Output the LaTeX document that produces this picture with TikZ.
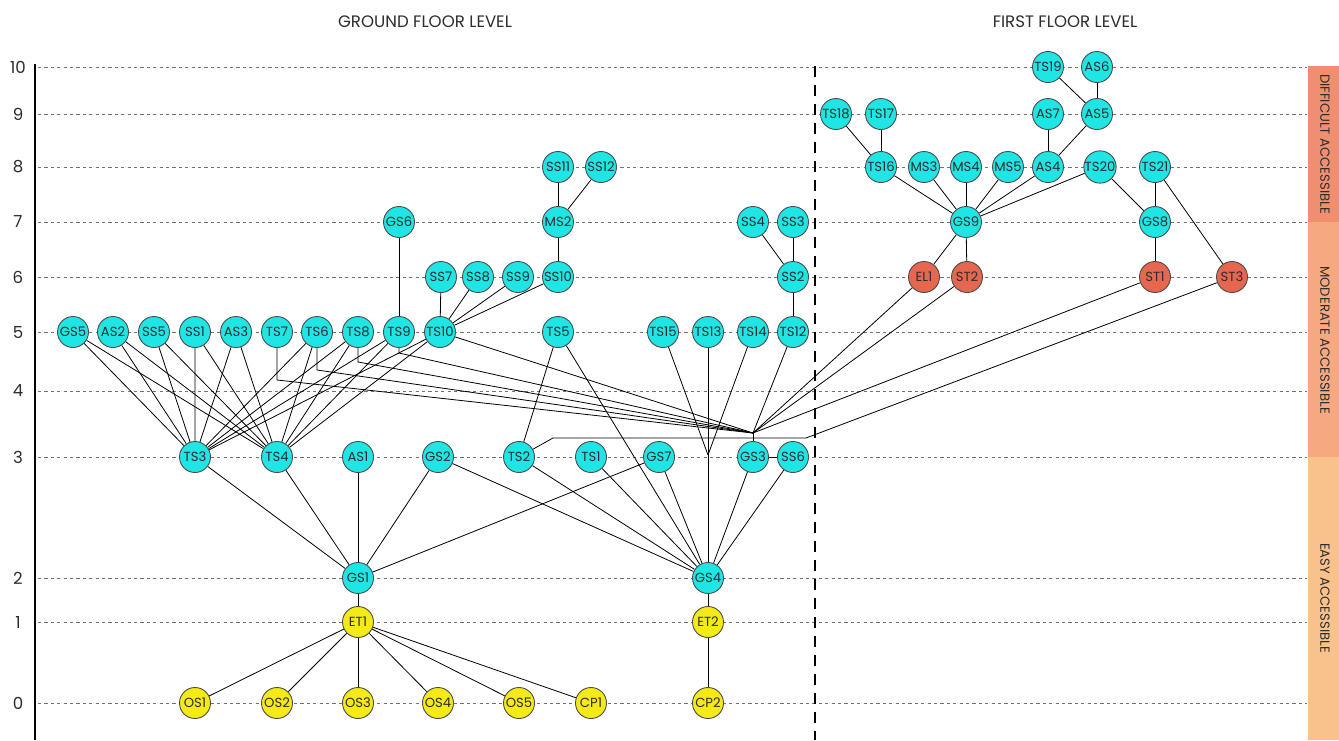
\documentclass[tikz,border=0pt]{standalone}
\usepackage{fontspec}
\setmainfont{Poppins}
\usetikzlibrary{backgrounds}
\definecolor{nodecyan}{RGB}{32,229,229}
\definecolor{vertred}{RGB}{229,103,79}
\definecolor{entryyel}{RGB}{244,234,22}
\definecolor{banddiff}{RGB}{240,142,112}
\definecolor{bandmod}{RGB}{246,168,128}
\definecolor{bandeasy}{RGB}{249,193,140}
\definecolor{labelgray}{RGB}{45,45,45}

\begin{document}
\begin{tikzpicture}[x=0.5pt, y=-0.5pt, line width=1.15pt,
    main/.style = {draw=black!70, line width=0.45pt, circle, fill=nodecyan, minimum size=15.5pt, inner sep=0pt, text=labelgray, font=\fontsize{6.6}{6.6}\selectfont},
    vert/.style = {main, fill=vertred},
    entr/.style = {main, fill=entryyel},
    lvline/.style = {black!55, line width=0.5pt, dash pattern=on 1.6pt off 1.6pt},
    lvl/.style = {text=labelgray, font=\fontsize{8.3}{9}\selectfont},
    band/.style = {text=labelgray, rotate=-90, font=\fontsize{6.6}{7}\selectfont}]
    \useasboundingbox (0,0) rectangle (1339,740);

    % accessibility bands
    \fill[banddiff] (1308,66) rectangle (1339,222);
    \fill[bandmod] (1308,222) rectangle (1339,457);
    \fill[bandeasy] (1308,457) rectangle (1339,740);
    \node[band] (difficult) at (1325,144) {DIFFICULT ACCESSIBLE};
    \node[band] (moderate) at (1325,340) {MODERATE ACCESSIBLE};
    \node[band] (easy) at (1325,598) {EASY ACCESSIBLE};

    \node[lvl] (ground) at (425,22) {GROUND FLOOR LEVEL};
    \node[lvl] (first) at (1065,22) {FIRST FLOOR LEVEL};

    % levels
    \begin{scope}[on background layer]
    \foreach \lv/\y in {10/67, 9/114, 8/167, 7/222, 6/277, 5/332, 4/391, 3/457, 2/578, 1/622, 0/703} {
        \draw[lvline] (38,\y) -- (1307,\y);
        \node[lvl] (l\lv) at (18,\y) {\lv};
    }
    \end{scope}
    \draw[line width=1.2pt] (35,64) -- (35,740);
    \draw[line width=1pt, dash pattern=on 5.5pt off 4pt] (815,66) -- (815,740);

    % ground floor
    \foreach \n/\x in {GS6/399, MS2/558, SS4/753, SS3/793} \node[main] (\n) at (\x,222) {\n};
    \foreach \n/\x in {SS11/558, SS12/601} \node[main] (\n) at (\x,167) {\n};
    \foreach \n/\x in {SS7/441, SS8/478, SS9/518, SS10/558, SS2/793} \node[main] (\n) at (\x,277) {\n};
    \foreach \n/\x in {GS5/73, AS2/113, SS5/154, SS1/195, AS3/236, TS7/277, TS6/317, TS8/358, TS9/399, TS10/440, TS5/558, TS15/663, TS13/708, TS14/753, TS12/793}
        \node[main] (\n) at (\x,332) {\n};
    \foreach \n/\x in {TS3/195, TS4/277, AS1/358, GS2/438, TS2/519, TS1/591, GS7/659, GS3/753, SS6/793}
        \node[main] (\n) at (\x,457) {\n};
    \node[main] (GS1) at (358,578) {GS1};
    \node[main] (GS4) at (708,578) {GS4};
    \node[entr] (ET1) at (358,622) {ET1};
    \node[entr] (ET2) at (708,622) {ET2};
    \foreach \n/\x in {OS1/195, OS2/277, OS3/358, OS4/438, OS5/519, CP1/591, CP2/708}
        \node[entr] (\n) at (\x,703) {\n};

    % first floor
    \node[main] (TS19) at (1048,67) {TS19};
    \node[main] (AS6) at (1097,67) {AS6};
    \foreach \n/\x in {TS18/836, TS17/881, AS7/1048, AS5/1097} \node[main] (\n) at (\x,114) {\n};
    \foreach \n/\x in {TS16/881, MS3/924, MS4/966, MS5/1008, AS4/1048, TS20/1100, TS21/1155}
        \node[main] (\n) at (\x,167) {\n};
    \node[main] (GS9) at (966,222) {GS9};
    \node[main] (GS8) at (1155,222) {GS8};
    \foreach \n/\x in {EL1/924, ST2/967, ST1/1155, ST3/1232} \node[vert] (\n) at (\x,277) {\n};

    % junctions
    \coordinate (P) at (753,433);
    \coordinate (Q) at (708,455);
    \coordinate (H1) at (553,438);
    \coordinate (H2) at (806,438);

    \begin{scope}[on background layer]
    \foreach \n in {GS5, AS2, SS5, SS1, AS3, TS6, TS8, TS9, TS10}
        \draw (\n) -- (TS3) (\n) -- (TS4);
    \draw (TS7) -- (TS7 |- 0,380) -- (P);
    \draw (TS6) -- (TS6 |- 0,370) -- (P);
    \draw (TS8) -- (TS8 |- 0,362) -- (P);
    \draw (TS9) -- (TS9 |- 0,353) -- (P);
    \foreach \n in {TS10, TS12, EL1, ST2, ST1} \draw (\n) -- (P);
    \draw (GS3) -- (P);
    \draw (TS2) -- (H1) -- (H2) -- (ST3);
    \draw (TS15) -- (Q);
    \draw (TS14) -- (Q);

    \draw (TS9) -- (GS6);
    \foreach \n in {SS7, SS8, SS9, SS10} \draw (TS10) -- (\n);
    \draw (SS10) -- (MS2);
    \draw (MS2) -- (SS11);
    \draw (MS2) -- (SS12);
    \draw (TS12) -- (SS2);
    \draw (SS2) -- (SS3);
    \draw (SS2) -- (SS4);
    \draw (TS5) -- (TS2);
    \draw (GS3) -- (SS6);

    \foreach \n in {TS3, TS4, AS1, GS2, GS7, ET1} \draw (GS1) -- (\n);
    \foreach \n in {GS2, TS2, TS1, TS5, GS7, TS13, GS3, SS6, ET2} \draw (GS4) -- (\n);
    \foreach \n in {OS1, OS2, OS3, OS4, OS5, CP1} \draw (ET1) -- (\n);
    \draw (ET2) -- (CP2);

    \foreach \n in {TS16, MS3, MS4, MS5, AS4, TS20, EL1, ST2} \draw (GS9) -- (\n);
    \draw (TS16) -- (TS18);
    \draw (TS16) -- (TS17);
    \draw (AS4) -- (AS7);
    \draw (AS4) -- (AS5);
    \draw (AS5) -- (AS6);
    \draw (AS5) -- (TS19);
    \draw (TS20) -- (GS8);
    \draw (GS8) -- (TS21);
    \draw (GS8) -- (ST1);
    \draw (TS21) -- (ST3);
    \end{scope}
\end{tikzpicture}
\end{document}
